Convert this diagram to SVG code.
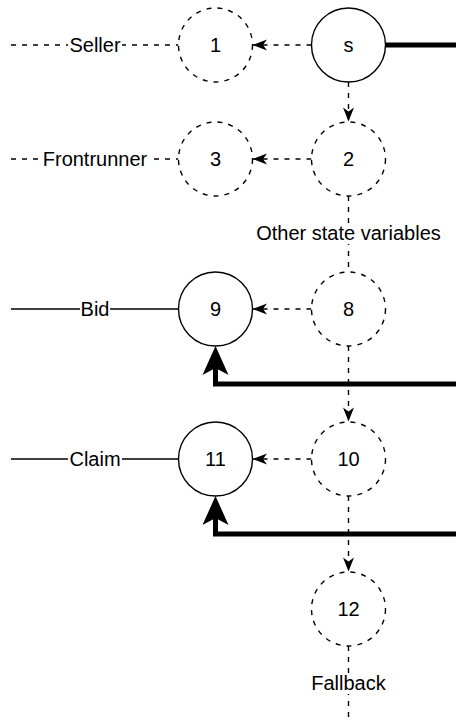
<svg xmlns="http://www.w3.org/2000/svg" width="456" height="720" viewBox="0 0 456 720">
<style>
.c{fill:#fff;stroke:#000;stroke-width:1.4}
.d{stroke-dasharray:5 6}
.t{font-family:"Liberation Sans",Arial,Helvetica,sans-serif;font-size:20px;fill:#000;text-anchor:middle}
.l{fill:none;stroke:#000;stroke-width:1.4}
.k{fill:none;stroke:#000;stroke-width:5}
.bg{fill:#fff}
</style>
<defs>
<marker id="a" markerUnits="userSpaceOnUse" orient="auto" refX="0" refY="0" markerWidth="16" markerHeight="14" viewBox="-15 -7 16 14" overflow="visible">
<path d="M0,0 L-14,-5.5 L-10,0 L-14,5.5 Z" fill="#000"/>
</marker>
<marker id="b" markerUnits="userSpaceOnUse" orient="auto" refX="-20" refY="0" markerWidth="32" markerHeight="28" viewBox="-30 -14 32 28" overflow="visible">
<path d="M0,0 L-29,-13 L-22,0 L-29,13 Z" fill="#000"/>
</marker>
</defs>
<rect width="456" height="720" fill="#fff"/>
<g id="connectors">
<path class="l d" d="M11,45 H178.5"/>
<path class="l d" d="M11,159 H178.5"/>
<path class="l" d="M11,309 H178.5"/>
<path class="l" d="M11,459 H178.5"/>
<path class="l d" d="M311.5,45 H253" marker-end="url(#a)"/>
<path class="l d" d="M311.5,159 H253" marker-end="url(#a)"/>
<path class="l d" d="M311.5,309 H253" marker-end="url(#a)"/>
<path class="l d" d="M311.5,459 H253" marker-end="url(#a)"/>
<path class="l d" d="M348.5,82 V121.5" marker-end="url(#a)"/>
<path class="l d" d="M348.5,196 V272"/>
<path class="l d" d="M348.5,346 V421.5" marker-end="url(#a)"/>
<path class="l d" d="M348.5,496 V571.5" marker-end="url(#a)"/>
<path class="l d" d="M348.5,646 V720"/>
<path class="k" d="M385.5,45 H456"/>
<path class="k" d="M456,384 H215.5 V366" marker-end="url(#b)"/>
<path class="k" d="M456,534 H215.5 V516" marker-end="url(#b)"/>
<g id="labels">
<rect class="bg" x="68" y="33" width="54" height="24"/>
<text class="t" x="95" y="52">Seller</text>
<rect class="bg" x="41" y="147" width="108" height="24"/>
<text class="t" x="95" y="166">Frontrunner</text>
<rect class="bg" x="80" y="297" width="30" height="24"/>
<text class="t" x="95" y="316">Bid</text>
<rect class="bg" x="68" y="447" width="54" height="24"/>
<text class="t" x="95" y="466">Claim</text>
<rect class="bg" x="252" y="223" width="193" height="21"/>
<text class="t" x="348.5" y="240">Other state variables</text>
<rect class="bg" x="304" y="673" width="89" height="21"/>
<text class="t" x="348.5" y="690">Fallback</text>
</g>
</g>
<g id="n1"><circle class="c d" cx="215.5" cy="45" r="37"/><text class="t" x="215.5" y="52">1</text></g>
<g id="ns"><circle class="c" cx="348.5" cy="45" r="37"/><text class="t" x="348.5" y="52">s</text></g>
<g id="n3"><circle class="c d" cx="215.5" cy="159" r="37"/><text class="t" x="215.5" y="166">3</text></g>
<g id="n2"><circle class="c d" cx="348.5" cy="159" r="37"/><text class="t" x="348.5" y="166">2</text></g>
<g id="n9"><circle class="c" cx="215.5" cy="309" r="37"/><text class="t" x="215.5" y="316">9</text></g>
<g id="n8"><circle class="c d" cx="348.5" cy="309" r="37"/><text class="t" x="348.5" y="316">8</text></g>
<g id="n11"><circle class="c" cx="215.5" cy="459" r="37"/><text class="t" x="215.5" y="466">11</text></g>
<g id="n10"><circle class="c d" cx="348.5" cy="459" r="37"/><text class="t" x="348.5" y="466">10</text></g>
<g id="n12"><circle class="c d" cx="348.5" cy="609" r="37"/><text class="t" x="348.5" y="616">12</text></g>
</svg>
